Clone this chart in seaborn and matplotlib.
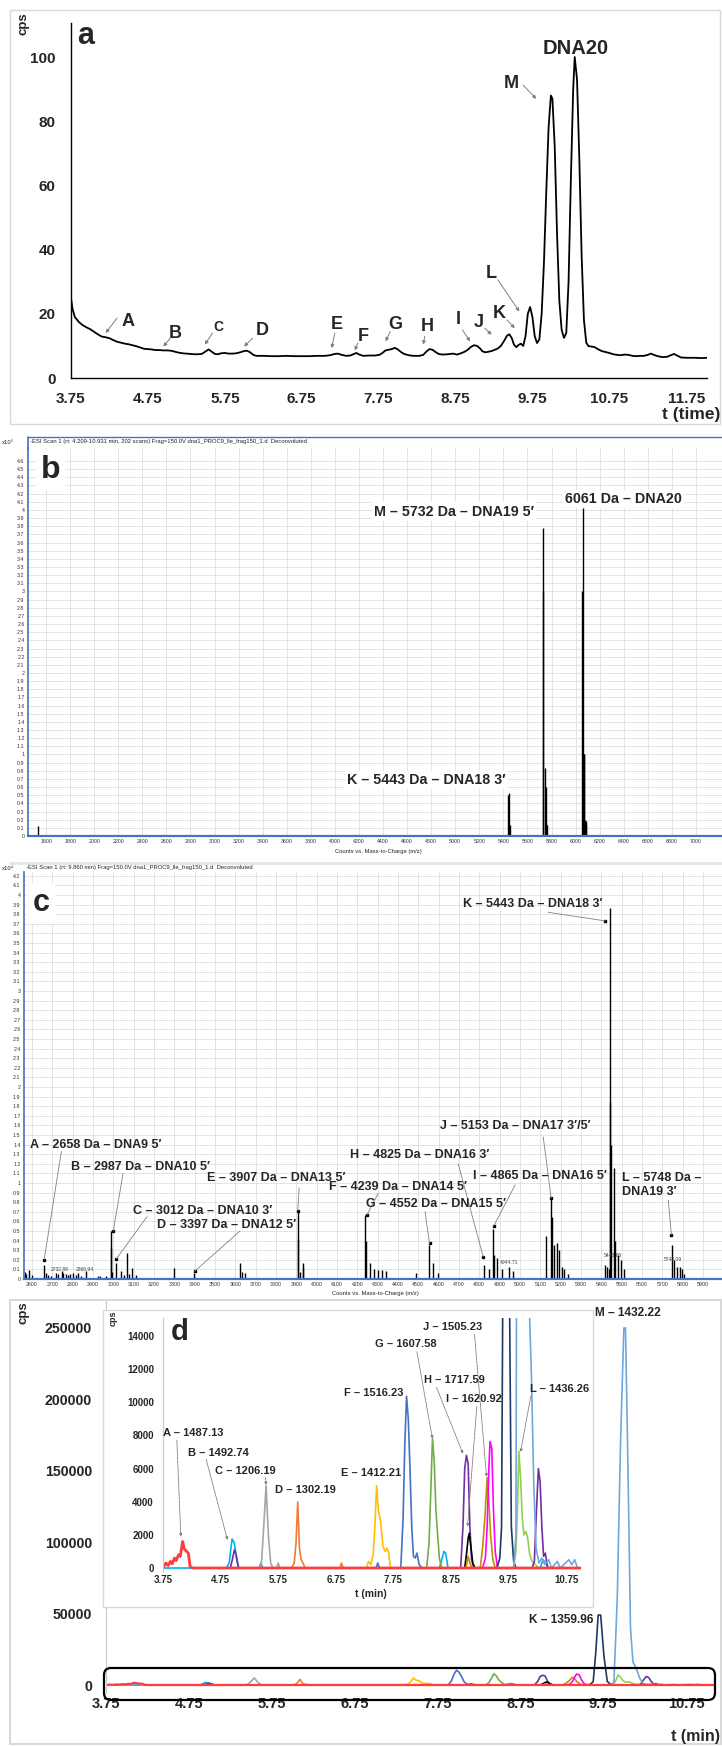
import numpy as np
import pandas as pd
import matplotlib
matplotlib.use("Agg")
import matplotlib.pyplot as plt
import seaborn as sns
from matplotlib.patches import Rectangle, FancyBboxPatch
from matplotlib.lines import Line2D

# ---------------------------------------------------------------- data
# (a) total ion chromatogram
a_time = [3.75, 3.77, 3.80, 3.85, 3.90, 3.95, 4.00, 4.05, 4.10, 4.15, 4.20, 4.25, 4.30, 4.35,
          4.40, 4.45, 4.50, 4.55, 4.60, 4.65, 4.70, 4.75, 4.80, 4.85, 4.90, 4.95, 5.00, 5.05,
          5.10, 5.15, 5.20, 5.25, 5.30, 5.35, 5.40, 5.45, 5.50, 5.54, 5.58, 5.62, 5.66, 5.70,
          5.75, 5.80, 5.85, 5.90, 5.95, 6.00, 6.04, 6.08, 6.12, 6.16, 6.25, 6.35, 6.45, 6.55,
          6.65, 6.75, 6.85, 6.95, 7.05, 7.12, 7.18, 7.22, 7.27, 7.33, 7.38, 7.43, 7.46, 7.50,
          7.55, 7.62, 7.70, 7.76, 7.80, 7.84, 7.88, 7.92, 7.96, 8.00, 8.04, 8.08, 8.14, 8.20,
          8.28, 8.33, 8.37, 8.41, 8.45, 8.49, 8.53, 8.58, 8.65, 8.72, 8.77, 8.82, 8.87, 8.91,
          8.95, 8.99, 9.03, 9.07, 9.10, 9.14, 9.18, 9.22, 9.26, 9.30, 9.34, 9.38, 9.42, 9.45,
          9.48, 9.51, 9.54, 9.57, 9.60, 9.63, 9.66, 9.69, 9.72, 9.75, 9.78, 9.81, 9.84, 9.87,
          9.90, 9.93, 9.96, 9.99, 10.01, 10.04, 10.07, 10.10, 10.13, 10.16, 10.19, 10.22, 10.25,
          10.28, 10.30, 10.33, 10.36, 10.39, 10.42, 10.45, 10.48, 10.52, 10.56, 10.60, 10.65,
          10.70, 10.75, 10.80, 10.85, 10.90, 10.95, 11.00, 11.05, 11.10, 11.15, 11.20, 11.25,
          11.29, 11.33, 11.38, 11.44, 11.50, 11.55, 11.59, 11.63, 11.68, 11.75, 11.85, 11.95, 12.02]
a_cps = [24.9, 21.5, 19.0, 17.5, 16.5, 15.8, 15.2, 14.4, 13.6, 12.9, 12.7, 12.4, 11.8, 11.3,
         11.0, 10.7, 10.5, 10.2, 9.9, 9.5, 9.1, 9.0, 8.9, 8.7, 8.7, 8.6, 8.6, 8.5,
         8.2, 7.9, 7.7, 7.6, 7.5, 7.4, 7.4, 7.5, 8.3, 8.9, 8.2, 7.5, 7.4, 7.7,
         7.8, 7.6, 7.6, 7.7, 8.0, 8.4, 8.5, 8.0, 7.2, 6.9, 6.9, 6.8, 6.8, 6.9,
         6.8, 6.8, 6.8, 6.9, 6.9, 7.1, 7.5, 7.6, 7.2, 6.9, 7.0, 7.5, 7.8, 7.3,
         6.9, 7.0, 7.0, 7.2, 7.8, 8.6, 8.8, 9.0, 9.4, 8.9, 8.1, 7.5, 7.1, 6.9,
         6.9, 7.2, 8.2, 9.0, 8.8, 8.1, 7.5, 7.3, 7.4, 7.6, 7.3, 7.7, 8.2, 8.8,
         9.7, 10.2, 10.0, 9.2, 8.3, 8.0, 8.2, 8.4, 8.8, 9.2, 10.0, 11.5, 13.2, 13.6,
         12.5, 10.4, 9.6, 10.3, 10.7, 10.0, 13.0, 20.0, 22.1, 19.0, 13.0, 10.9, 12.0, 20.0,
         36.0, 58.0, 78.0, 88.0, 87.0, 72.0, 45.0, 24.0, 15.0, 12.5, 14.0, 30.0, 62.0,
         90.0, 100.0, 93.0, 68.0, 38.0, 18.0, 11.0, 9.9, 9.8, 9.6, 9.0, 8.4,
         8.1, 7.8, 7.4, 7.2, 7.1, 7.3, 7.2, 6.9, 6.8, 6.9, 6.9, 7.2,
         7.6, 7.2, 6.8, 6.5, 6.6, 7.1, 7.5, 7.0, 6.4, 6.3, 6.3, 6.2, 6.3]
a_xticks = [3.75, 4.75, 5.75, 6.75, 7.75, 8.75, 9.75, 10.75, 11.75]
a_yticks = [0, 20, 40, 60, 80, 100]
a_peak_names = ["A", "B", "C", "D", "E", "F", "G", "H", "I", "J", "K", "L", "M"]

# (b) deconvoluted spectrum, whole run (x10^5 counts)
b_mass = [1530, 5440, 5443, 5458, 5725, 5732, 5744, 5750, 5755, 5762,
          6055, 6061, 6065, 6069, 6072, 6077, 6082, 6090]
b_abund = [0.12, 0.50, 0.53, 0.14, 3.00, 3.78, 0.83, 0.60, 0.15, 0.13,
           3.00, 4.02, 0.75, 1.00, 1.00, 0.20, 0.14, 0.18]
b_xticks = list(range(1600, 7001, 200))
b_labels = ["M \u2013 5732 Da \u2013 DNA19 5\u2032", "6061 Da \u2013 DNA20",
            "K \u2013 5443 Da \u2013 DNA18 3\u2032"]

# (c) deconvoluted spectrum at rt 9.860 min (x10^4 counts)
c_mass = [2565, 2572, 2585, 2598, 2658, 2671, 2678, 2695, 2720, 2726, 2749, 2755, 2769, 2776,
          2789, 2800, 2816, 2828, 2841, 2867, 2925, 2933, 2962, 2987, 2989, 2995, 3012, 3036,
          3052, 3068, 3079, 3093, 3112, 3300, 3397, 3621, 3631, 3646, 3907, 3909, 3920, 3932,
          3934, 4239, 4241, 4263, 4283, 4303, 4322, 4342, 4489, 4552, 4573, 4596, 4825, 4845,
          4865, 4871, 4887, 4911, 4945, 4967, 5128, 5153, 5155, 5165, 5181, 5194, 5206, 5217,
          5238, 5419, 5427, 5435, 5443, 5441, 5446, 5460, 5468, 5484, 5497, 5509, 5748, 5759,
          5772, 5785, 5797, 5808]
c_abund = [0.07, 0.05, 0.09, 0.04, 0.15, 0.06, 0.04, 0.03, 0.06, 0.05, 0.08, 0.06, 0.05, 0.04,
           0.05, 0.06, 0.04, 0.06, 0.03, 0.08, 0.03, 0.03, 0.03, 0.50, 0.32, 0.07, 0.17, 0.08,
           0.04, 0.27, 0.05, 0.11, 0.04, 0.11, 0.06, 0.17, 0.07, 0.06, 0.70, 0.42, 0.07, 0.17,
           0.12, 0.67, 0.40, 0.17, 0.10, 0.09, 0.09, 0.08, 0.06, 0.35, 0.17, 0.06, 0.15, 0.10,
           0.52, 0.25, 0.22, 0.10, 0.12, 0.08, 0.45, 0.83, 0.65, 0.35, 0.37, 0.30, 0.12, 0.10,
           0.05, 0.15, 0.12, 0.10, 3.86, 1.84, 1.40, 1.16, 0.40, 0.25, 0.20, 0.10, 0.35, 0.20,
           0.13, 0.12, 0.10, 0.05]
c_xticks = list(range(2600, 5901, 100))
c_labels = ["K \u2013 5443 Da \u2013 DNA18 3\u2032", "J \u2013 5153 Da \u2013 DNA17 3\u2032/5\u2032",
            "A \u2013 2658 Da \u2013 DNA9 5\u2032", "B \u2013 2987 Da \u2013 DNA10 5\u2032",
            "E \u2013 3907 Da \u2013 DNA13 5\u2032", "F \u2013 4239 Da \u2013 DNA14 5\u2032",
            "H \u2013 4825 Da \u2013 DNA16 3\u2032", "I \u2013 4865 Da \u2013 DNA16 5\u2032",
            "G \u2013 4552 Da \u2013 DNA15 5\u2032", "C \u2013 3012 Da \u2013 DNA10 3\u2032",
            "D \u2013 3397 Da \u2013 DNA12 5\u2032", "L \u2013 5748 Da \u2013\nDNA19 3\u2032"]
c_minor_masses = ["2732.88", "2866.94", "4944.71", "5443.65", "5748.09"]

# (d) extracted ion chromatograms of the fragments
dA_t = [3.75, 3.80, 3.84, 3.88, 3.91, 3.95, 3.98, 4.02, 4.05, 4.09, 4.12, 4.16, 4.19, 4.22, 4.26, 11.10]
dA_c = [0, 300, 150, 400, 250, 600, 450, 800, 700, 1600, 1150, 1000, 900, 100, 0, 0]
dB_t = [3.75, 4.30, 4.85, 4.90, 4.93, 4.95, 4.99, 5.03, 5.07, 5.42, 5.45, 5.48,
        8.55, 8.60, 8.63, 8.66, 8.70, 10.30, 10.35, 10.40, 10.45]
dB_c = [0, 0, 0, 300, 1200, 1750, 1500, 500, 0, 0, 300, 0,
        0, 600, 1000, 900, 0, 0, 500, 300, 0]
dB2_t = [4.92, 4.96, 4.99, 5.02, 5.06]
dB2_c = [0, 600, 1100, 800, 0]
dC_t = [5.42, 5.46, 5.50, 5.54, 5.58, 5.62, 5.66, 5.72, 5.75, 5.78]
dC_c = [0, 300, 2500, 4970, 2000, 300, 0, 0, 300, 0]
dD_t = [5.98, 6.03, 6.06, 6.09, 6.12, 6.15, 6.18, 6.22, 6.82, 6.85, 6.88]
dD_c = [0, 300, 1500, 3980, 1200, 500, 300, 0, 0, 300, 0]
dE_t = [7.28, 7.32, 7.36, 7.40, 7.43, 7.46, 7.49, 7.53, 7.57, 7.61, 7.64, 7.67, 7.70]
dE_c = [0, 400, 200, 800, 2500, 4970, 3500, 2800, 1300, 1000, 1200, 900, 0]
dF_t = [7.45, 7.48, 7.51, 7.88, 7.92, 7.95, 7.98, 8.01, 8.04, 8.07, 8.10, 8.13, 8.16, 8.20, 8.25]
dF_c = [0, 300, 0, 0, 3000, 7500, 10370, 9000, 6000, 2500, 700, 600, 900, 200, 0]
dG_t = [8.33, 8.37, 8.40, 8.43, 8.46, 8.49, 8.52, 8.55, 8.59]
dG_c = [0, 1500, 4500, 7800, 6500, 3500, 2000, 600, 0]
dH_t = [8.92, 8.96, 8.99, 9.02, 9.05, 9.08, 9.11, 9.15]
dH_c = [0, 2500, 6000, 6800, 6300, 2500, 500, 0]
dI_t = [8.99, 9.02, 9.05, 9.07, 9.10, 9.13, 9.17]
dI_c = [0, 800, 1800, 2100, 1200, 300, 0]
dJ_t = [9.01, 9.05, 9.08, 9.12, 9.26, 9.30, 9.34, 9.38, 9.41, 9.44, 9.48, 9.52]
dJ_c = [0, 700, 300, 0, 0, 1200, 3000, 5450, 4000, 2000, 500, 0]
dJ2_t = [9.30, 9.35, 9.38, 9.41, 9.43, 9.46, 9.49, 9.52, 9.56]
dJ2_c = [0, 600, 2500, 6000, 7640, 7200, 3500, 1000, 0]
dK_t = [9.55, 9.60, 9.63, 9.66, 9.69, 9.72, 9.76, 9.80, 9.84, 9.88]
dK_c = [0, 600, 2450, 22000, 49000, 49000, 20000, 2500, 400, 0]
dL_t = [9.84, 9.88, 9.91, 9.93, 9.96, 9.99, 10.02, 10.05, 10.08, 10.12, 10.16, 10.22, 10.28]
dL_c = [0, 1000, 4000, 7050, 5500, 3000, 2000, 2200, 1900, 800, 400, 200, 0]
dL2_t = [10.16, 10.20, 10.23, 10.27, 10.30, 10.33, 10.36, 10.39, 10.43]
dL2_c = [0, 400, 3000, 6000, 5200, 2500, 700, 900, 0]
dM_t = [9.84, 9.88, 9.92, 9.96, 10.00, 10.02, 10.05, 10.08, 10.11, 10.15, 10.19, 10.23, 10.28,
        10.33, 10.38, 10.45, 10.50, 10.60, 10.65, 10.80, 10.85, 10.90, 10.95]
dM_c = [0, 2000, 60000, 170000, 250000, 250000, 150000, 40000, 16000, 11500, 5000, 1200, 300,
        600, 200, 500, 0, 400, 0, 500, 200, 500, 0]
d_xticks = [3.75, 4.75, 5.75, 6.75, 7.75, 8.75, 9.75, 10.75]
d_yticks = [0, 50000, 100000, 150000, 200000, 250000]
d_inset_yticks = [0, 2000, 4000, 6000, 8000, 10000, 12000, 14000]
d_inset_labels = ["A \u2013 1487.13", "B \u2013 1492.74", "C \u2013 1206.19", "D \u2013 1302.19",
                  "E \u2013 1412.21", "F \u2013 1516.23", "G \u2013 1607.58", "H \u2013 1717.59",
                  "I \u2013 1620.92", "J \u2013 1505.23", "L \u2013 1436.26"]
d_main_labels = ["M \u2013 1432.22", "K \u2013 1359.96"]

# ---------------------------------------------------------------- style
sns.set_theme(style="white")
plt.rcParams["font.family"] = ["Liberation Sans", "DejaVu Sans"]
plt.rcParams["font.weight"] = "bold"
PLAIN = ["Liberation Sans", "DejaVu Sans"]

W, H = 722, 1746
fig = plt.figure(figsize=(W / 100, H / 100), dpi=100)
fig.patch.set_facecolor("white")


def box(l, t, r, b):
    return [l / W, 1 - b / H, (r - l) / W, (b - t) / H]


def ftext(x, y, s, **kw):
    fig.text(x / W, 1 - y / H, s, **kw)


def fline(x0, y0, x1, y1, **kw):
    fig.add_artist(Line2D([x0 / W, x1 / W], [1 - y0 / H, 1 - y1 / H],
                          transform=fig.transFigure, **kw))


def frect(l, t, r, b, **kw):
    p = Rectangle((l / W, 1 - b / H), (r - l) / W, (b - t) / H,
                  transform=fig.transFigure, **kw)
    fig.add_artist(p)
    return p


GRAYARROW = dict(arrowstyle="-|>", color="#7f7f7f", lw=0.7, mutation_scale=5,
                 shrinkA=0, shrinkB=0)

# ================================================================ panel a
frect(10, 10, 720, 424, fill=False, ec="#d9d9d9", lw=1.0)
ax_a = fig.add_axes(box(71, 23, 707, 378))
sns.lineplot(data=pd.DataFrame({"t": a_time, "cps": a_cps}), x="t", y="cps",
             ax=ax_a, color="black", lw=1.3, sort=False, estimator=None)
ax_a.set_xlim(3.75, 12.02)
ax_a.set_ylim(0, 110.6)
ax_a.set_xticks(a_xticks)
ax_a.set_xticklabels([f"{v:.2f}" for v in a_xticks])
ax_a.set_yticks(a_yticks)
ax_a.set_xlabel("")
ax_a.set_ylabel("")
ax_a.tick_params(axis="x", length=0, labelsize=11, pad=10)
ax_a.tick_params(axis="y", length=0, labelsize=11, pad=11)
for side in ("top", "right"):
    ax_a.spines[side].set_visible(False)
for side in ("left", "bottom"):
    ax_a.spines[side].set_color("black")
    ax_a.spines[side].set_linewidth(1.0)

a_text_t = [4.49, 5.11, 5.67, 6.24, 7.21, 7.55, 7.96, 8.38, 8.78, 9.05, 9.32, 9.22, 9.48]
a_text_c = [17.6, 14.0, 16.0, 14.8, 16.6, 13.0, 16.6, 16.0, 18.1, 17.3, 20.2, 32.6, 91.7]
a_from = [(4.35, 18.7), (5.04, 12.4), (5.59, 14.0), (6.11, 12.4), (7.18, 14.0), (7.48, 10.9),
          (7.90, 14.5), (8.35, 13.0), (8.84, 15.0), (9.13, 15.5), (9.42, 18.1), (9.30, 30.6),
          (9.63, 91.2)]
a_to = [(4.20, 14.0), (4.95, 9.8), (5.49, 10.4), (6.00, 9.8), (7.14, 9.3), (7.44, 8.6),
        (7.84, 11.4), (8.33, 10.4), (8.94, 11.4), (9.22, 13.5), (9.52, 15.5), (9.58, 20.7),
        (9.80, 87.0)]
for name, tx, ty, st, en in zip(a_peak_names, a_text_t, a_text_c, a_from, a_to):
    ax_a.text(tx, ty, name, ha="center", va="center",
              fontsize=10 if name == "C" else 13, fontweight="bold")
    ax_a.annotate("", xy=en, xytext=st, arrowprops=GRAYARROW)
ax_a.text(10.31, 102.8, "DNA20", ha="center", va="center", fontsize=14.5, fontweight="bold")
ftext(86, 36, "a", fontsize=22, fontweight="bold", ha="center", va="center")
ftext(23, 24, "cps", fontsize=9.5, fontweight="bold", rotation=90, ha="center", va="center")
ftext(720, 414, "t (time)", fontsize=12.5, fontweight="bold", ha="right", va="center")

# ================================================================ spectra helpers
BLUE = "#4472c4"


def style_spectrum(ax, xlim, ylim, xticks, ymax_tick, ystep):
    ax.set_xlim(*xlim)
    ax.set_ylim(*ylim)
    ax.set_xticks(xticks)
    yt = np.round(np.arange(0, ymax_tick + 1e-9, ystep), 1)
    ax.set_yticks(yt)
    ax.set_yticklabels([f"{v:g}" for v in yt])
    ax.grid(True, color="#dedede", lw=0.6)
    ax.set_axisbelow(True)
    for side in ("top", "right"):
        ax.spines[side].set_visible(False)
    ax.spines["left"].set_color(BLUE)
    ax.spines["left"].set_linewidth(1.2)
    ax.spines["bottom"].set_color(BLUE)
    ax.spines["bottom"].set_linewidth(1.6)
    ax.tick_params(axis="both", direction="out", length=1.5, width=0.5, pad=1,
                   labelsize=3.8, colors="#333333")
    for lbl in ax.get_xticklabels() + ax.get_yticklabels():
        lbl.set_fontfamily(PLAIN)
        lbl.set_fontweight("normal")
    ax.set_xlabel("")
    ax.set_ylabel("")


def small(x, y, s, **kw):
    ftext(x, y, s, fontsize=4.2, fontweight="normal", family=PLAIN, color="#222222",
          va="center", **kw)


WHITE = dict(fc="white", ec="none", pad=1.5)

# ================================================================ panel b
fline(28, 437, 722, 437, color=BLUE, lw=1.0)
fline(28, 437, 28, 449, color=BLUE, lw=1.2)
ax_b = fig.add_axes(box(28, 448, 722, 836))
ax_b.vlines(b_mass, 0, b_abund, color="black", lw=1.0)
style_spectrum(ax_b, (1450, 7216), (0, 4.76), b_xticks, 4.6, 0.1)
small(2, 442, "x10\u2075")
small(30, 442, "-ESI Scan 1 (rt: 4.209-10.931 min, 202 scans) Frag=150.0V "
               "dna1_PROC9_lle_frag150_1.d  Deconvoluted")
small(378, 851, "Counts vs. Mass-to-Charge (m/z)", ha="center")
ftext(51, 470, "b", fontsize=23, fontweight="bold", ha="center", va="center",
      bbox=dict(fc="white", ec="none", pad=4))
ax_b.text(5654, 3.98, b_labels[0], ha="right", va="center", fontsize=10.3, bbox=WHITE)
ax_b.text(5911, 4.13, b_labels[1], ha="left", va="center", fontsize=10.3, bbox=WHITE)
ax_b.text(5420, 0.69, b_labels[2], ha="right", va="center", fontsize=10.3, bbox=WHITE)
fline(10, 863, 722, 863, color="#dfe6ee", lw=2.0)

# ================================================================ panel c
ax_c = fig.add_axes(box(24, 872, 722, 1279))
ax_c.vlines(c_mass, 0, c_abund, color="black", lw=1.0)
style_spectrum(ax_c, (2561, 5993), (0, 4.24), c_xticks, 4.2, 0.1)
small(2, 868, "x10\u2074")
small(26, 868, "-ESI Scan 1 (rt: 9.860 min) Frag=150.0V dna1_PROC9_lle_frag150_1.d  Deconvoluted")
small(375, 1294, "Counts vs. Mass-to-Charge (m/z)", ha="center")
ftext(41, 903, "c", fontsize=22, fontweight="bold", ha="center", va="center",
      bbox=dict(fc="white", ec="none", pad=4))

c_text_x = [4720, 4607, 2591, 2792, 3461, 4061, 4164, 4770, 4243, 3097, 3215, 5502]
c_text_y = [3.91, 1.59, 1.40, 1.17, 1.05, 0.96, 1.29, 1.07, 0.78, 0.71, 0.56, 0.98]
c_from = [(5138, 3.82), (5114, 1.48), (2745, 1.33), (3048, 1.10), (3914, 0.95), (4302, 0.89),
          (4696, 1.20), (4976, 0.98), (4533, 0.70), (3166, 0.65), (3623, 0.50), (5729, 0.82)]
c_to = [(5420, 3.73), (5153, 0.84), (2660, 0.20), (3000, 0.50), (3907, 0.71), (4248, 0.67),
        (4819, 0.23), (4870, 0.55), (4555, 0.37), (3015, 0.21), (3400, 0.08), (5744, 0.46)]
ARROW_C = dict(arrowstyle="-", color="#808080", lw=0.6, shrinkA=0, shrinkB=0)
for s, tx, ty, st, en in zip(c_labels, c_text_x, c_text_y, c_from, c_to):
    ax_c.text(tx, ty, s, ha="left", va="center", fontsize=9, linespacing=1.3)
    ax_c.annotate("", xy=en, xytext=st, arrowprops=ARROW_C)
    ax_c.plot([en[0]], [en[1]], marker="s", ms=1.6, color="black", lw=0)
c_minor_x = [2738, 2861, 4947, 5458, 5753]
c_minor_y = [0.10, 0.10, 0.17, 0.25, 0.20]
for s, x, y in zip(c_minor_masses, c_minor_x, c_minor_y):
    ax_c.text(x, y, s, ha="center", va="center", fontsize=3.6, fontweight="normal",
              family=PLAIN, color="#444444")

# ================================================================ panel d
frect(10, 1300, 721, 1744, fill=False, ec="#d9d9d9", lw=1.5)

traces = {
    "B": (dB_t, dB_c, "#00b0f0"), "B2": (dB2_t, dB2_c, "#7030a0"),
    "C": (dC_t, dC_c, "#a5a5a5"), "D": (dD_t, dD_c, "#ed7d31"),
    "E": (dE_t, dE_c, "#ffc000"), "F": (dF_t, dF_c, "#4472c4"),
    "G": (dG_t, dG_c, "#70ad47"), "H": (dH_t, dH_c, "#7030a0"),
    "I": (dI_t, dI_c, "#000000"), "J": (dJ_t, dJ_c, "#bf8f00"),
    "J2": (dJ2_t, dJ2_c, "#ff00ff"), "K": (dK_t, dK_c, "#203864"),
    "L": (dL_t, dL_c, "#92d050"), "L2": (dL2_t, dL2_c, "#7030a0"),
    "M": (dM_t, dM_c, "#6fa8dc"),
}
d_df = pd.concat([pd.DataFrame({"trace": k, "t": v[0], "cps": v[1]}) for k, v in traces.items()],
                 ignore_index=True)
d_pal = {k: v[2] for k, v in traces.items()}
dA_df = pd.DataFrame({"t": dA_t, "cps": dA_c})


def draw_traces(ax, lw, base_lw):
    sns.lineplot(data=d_df, x="t", y="cps", hue="trace", palette=d_pal, hue_order=list(traces),
                 estimator=None, sort=False, lw=lw, legend=False, ax=ax)
    sns.lineplot(data=dA_df, x="t", y="cps", color="#ff3b3b", estimator=None, sort=False,
                 lw=base_lw, ax=ax)
    ax.set_xlabel("")
    ax.set_ylabel("")


# main axes
ax_d = fig.add_axes(box(106, 1300, 715, 1693))
draw_traces(ax_d, 1.2, 1.6)
ax_d.set_xlim(3.75, 11.1)
ax_d.set_ylim(-5600, 269600)
ax_d.set_xticks(d_xticks)
ax_d.set_xticklabels([f"{v:.2f}" for v in d_xticks])
ax_d.set_yticks(d_yticks)
ax_d.set_yticklabels([str(v) for v in d_yticks])
ax_d.tick_params(axis="x", length=0, labelsize=10.5, pad=3)
ax_d.tick_params(axis="y", length=0, labelsize=10.2, pad=10)
for side in ("top", "right", "bottom"):
    ax_d.spines[side].set_visible(False)
ax_d.spines["left"].set_color("#c8c8c8")
ax_d.spines["left"].set_linewidth(0.8)
ax_d.text(10.05, 260500, d_main_labels[0], ha="center", va="center", fontsize=8.6)
ax_d.text(9.63, 45500, d_main_labels[1], ha="right", va="center", fontsize=8.6)
ftext(24, 1313, "cps", fontsize=9.5, fontweight="bold", rotation=90, ha="center", va="center")
ftext(720, 1737, "t (min)", fontsize=11.5, fontweight="bold", ha="right", va="center")

# highlighted baseline region
fig.add_artist(FancyBboxPatch((104 / 100, (H - 1700) / 100), (715 - 104) / 100, 32 / 100,
                              boxstyle="round,pad=0,rounding_size=0.07",
                              transform=fig.dpi_scale_trans, fill=False, ec="black", lw=1.6,
                              zorder=5))

# inset
frect(103, 1310, 593, 1607, fc="white", ec="#d9d9d9", lw=1.0, zorder=2)
ax_in = fig.add_axes(box(163, 1318, 581, 1571))
ax_in.set_zorder(3)
ax_in.patch.set_alpha(0)
draw_traces(ax_in, 1.2, 2.0)
ax_in.set_xlim(3.75, 11.01)
ax_in.set_ylim(-181, 15090)
ax_in.set_xticks(d_xticks)
ax_in.set_xticklabels([f"{v:.2f}" for v in d_xticks])
ax_in.set_yticks(d_inset_yticks)
ax_in.set_yticklabels([str(v) for v in d_inset_yticks])
ax_in.tick_params(axis="x", length=0, labelsize=7, pad=3)
ax_in.tick_params(axis="y", length=0, labelsize=7, pad=6.5)
for side in ("top", "right", "bottom"):
    ax_in.spines[side].set_visible(False)
ax_in.spines["left"].set_color("#c8c8c8")
ax_in.spines["left"].set_linewidth(0.8)

in_text_t = [3.75, 4.18, 4.66, 5.70, 6.85, 6.90, 7.44, 8.28, 8.67, 8.26, 10.13]
in_text_c = [8140, 6940, 5840, 4680, 5730, 10590, 13500, 11360, 10180, 14530, 10810]
in_from = [(3.99, 7700), (4.50, 6550), (5.53, 5450), None, None, None, (8.16, 13050),
           (8.50, 10900), (9.20, 9750), (9.16, 14100), (10.14, 10400)]
in_to = [(4.06, 1900), (4.87, 1700), (5.54, 5000), None, None, None, (8.43, 7800),
         (8.96, 6900), (9.04, 2500), (9.37, 5500), (9.96, 7000)]
ARROW_D = dict(arrowstyle="-|>", color="#7f7f7f", lw=0.6, mutation_scale=4,
               shrinkA=0, shrinkB=0, linestyle=(0, (3, 1)))
for s, tx, ty, st, en in zip(d_inset_labels, in_text_t, in_text_c, in_from, in_to):
    ax_in.text(tx, ty, s, ha="left", va="center", fontsize=8, zorder=6)
    if st is not None:
        ax_in.annotate("", xy=en, xytext=st, arrowprops=ARROW_D, zorder=6)
ftext(371, 1594, "t (min)", fontsize=7.5, fontweight="bold", ha="center", va="center", zorder=6)
ftext(113, 1318, "cps", fontsize=6.5, fontweight="bold", rotation=90, ha="center", va="center",
      zorder=6)
ftext(180, 1332, "d", fontsize=21, fontweight="bold", ha="center", va="center", zorder=6)

fig.savefig("out.png", dpi=100, facecolor="white")
